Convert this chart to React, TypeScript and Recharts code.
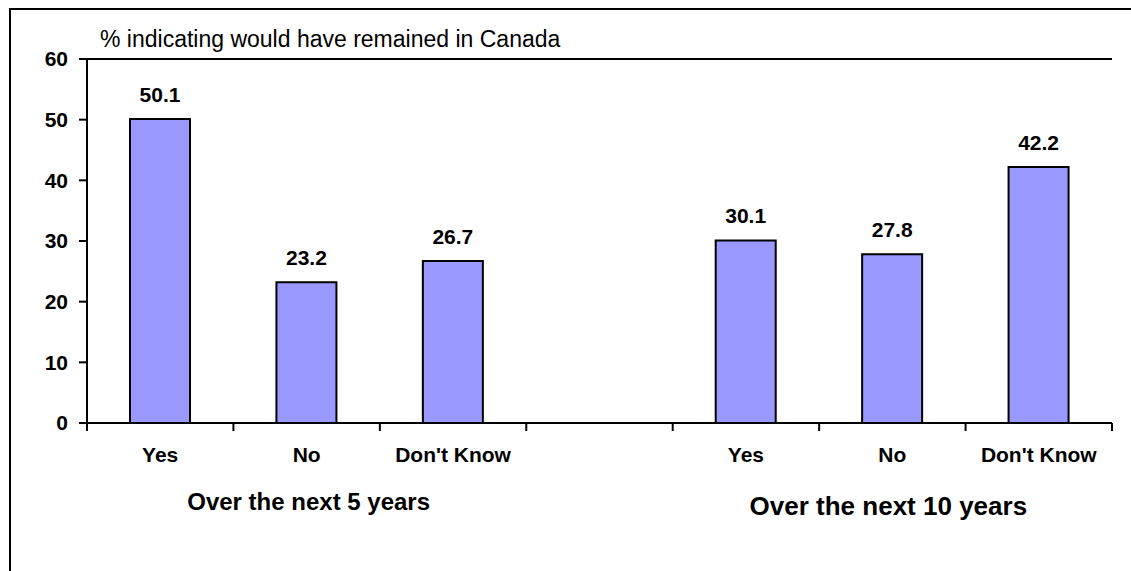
import { Bar, BarChart, CartesianGrid, LabelList, XAxis, YAxis } from "recharts";

const categories = ["Yes", "No", "Don't Know", "", "Yes", "No", "Don't Know"];
const values = [50.1, 23.2, 26.7, null, 30.1, 27.8, 42.2];
const yTicks = [0, 10, 20, 30, 40, 50, 60];
const groupLabels = ["Over the next 5 years", "Over the next 10 years"];
const title = "% indicating would have remained in Canada";

const data = categories.map((name, i) => ({ name, value: values[i] }));

const FONT = "'Liberation Sans', Arial, sans-serif";
const W = 1131;
const H = 571;
const PLOT_W = 1025;
const band = PLOT_W / categories.length;

// category ticks sit between bars (excel style), group label under the middle bar
const CategoryTick = (props: any) => {
  const { x, y, payload, index } = props;
  const last = index === categories.length - 1;
  const groupIdx = index === 1 ? 0 : index === 5 ? 1 : -1;
  return (
    <g>
      <line x1={x - band / 2} y1={y} x2={x - band / 2} y2={y + 8} stroke="#000" strokeWidth={2} />
      {last && (
        <line x1={x + band / 2} y1={y} x2={x + band / 2} y2={y + 8} stroke="#000" strokeWidth={2} />
      )}
      <text x={x} y={y + 39} textAnchor="middle" fontSize={21} fontWeight="bold" fill="#000" fontFamily={FONT}>
        {payload.value}
      </text>
      {groupIdx >= 0 && (
        <text
          x={x + (groupIdx === 1 ? -4 : 2)}
          y={y + (groupIdx === 1 ? 92 : 87)}
          textAnchor="middle"
          fontSize={groupIdx === 1 ? 26 : 24}
          fontWeight="bold"
          fill="#000"
          fontFamily={FONT}
        >
          {groupLabels[groupIdx]}
        </text>
      )}
    </g>
  );
};

export default function App() {
  return (
    <div style={{ position: "absolute", left: 0, top: 0, width: W, height: H, overflow: "hidden", background: "#fff" }}>
      <div
        style={{
          position: "absolute",
          left: 9,
          top: 8,
          width: 1300,
          height: 800,
          border: "2px solid #000",
        }}
      />
      <div style={{ position: "absolute", left: 0, top: 0 }}>
        <BarChart
          width={W}
          height={H}
          data={data}
          margin={{ top: 59, right: 19, bottom: 88, left: 7 }}
          style={{ fontFamily: FONT }}
        >
          <CartesianGrid vertical={false} stroke="#000" strokeWidth={2} />
          <XAxis
            dataKey="name"
            height={60}
            axisLine={{ stroke: "#000", strokeWidth: 2 }}
            tickLine={false}
            tickSize={0}
            tickMargin={0}
            interval={0}
            tick={<CategoryTick />}
          />
          <YAxis
            yAxisId="left"
            width={80}
            domain={[0, 60]}
            ticks={yTicks}
            interval={0}
            axisLine={{ stroke: "#000", strokeWidth: 2 }}
            tickLine={{ stroke: "#000", strokeWidth: 2 }}
            tickSize={8}
            tickMargin={11}
            tick={{ fontSize: 21, fontWeight: "bold", fill: "#000", fontFamily: FONT }}
          />
          <YAxis
            yAxisId="right"
            orientation="right"
            width={0}
            domain={[0, 60]}
            tick={false}
            tickLine={false}
            axisLine={{ stroke: "#000", strokeWidth: 2 }}
          />
          <Bar
            yAxisId="left"
            dataKey="value"
            fill="#9999FF"
            stroke="#000"
            strokeWidth={2}
            barSize={60}
            isAnimationActive={false}
          >
            <LabelList
              dataKey="value"
              position="top"
              offset={17}
              style={{ fontSize: 21, fontWeight: "bold", fill: "#000", fontFamily: FONT }}
            />
          </Bar>
        </BarChart>
      </div>
      <svg width={W} height={H} style={{ position: "absolute", left: 0, top: 0, pointerEvents: "none" }}>
        <text x={100} y={47} fontSize={23} fill="#000" fontFamily={FONT}>
          {title}
        </text>
      </svg>
    </div>
  );
}
